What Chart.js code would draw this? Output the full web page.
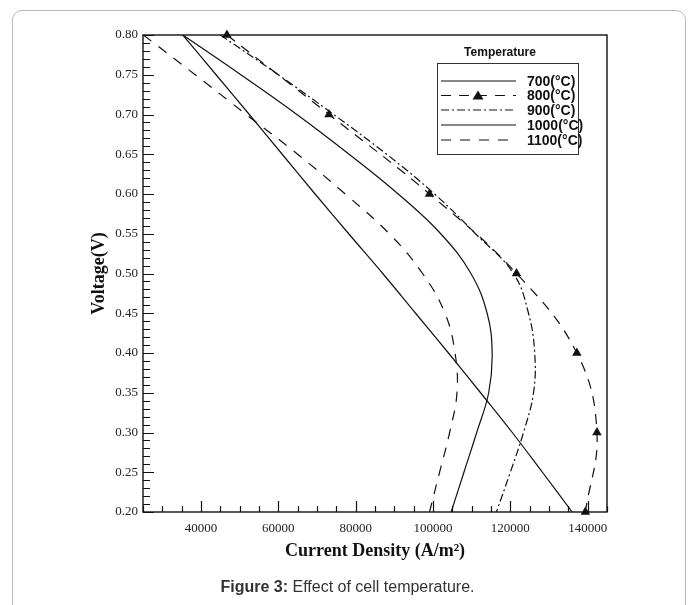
<!DOCTYPE html>
<html>
<head>
<meta charset="utf-8">
<script src="https://cdn.jsdelivr.net/npm/chart.js@4.4.0/dist/chart.umd.min.js"></script>
<style>
body { margin:0; background:#fff; width:695px; height:605px; overflow:hidden; position:relative; font-family:"Liberation Sans", Arial, sans-serif; }
#frame { position:absolute; left:12px; top:10px; width:672px; height:640px; border:1px solid #b8b8b8; border-radius:10px; }
#wrap { position:absolute; left:0; top:0; width:695px; height:605px; }
#caption { position:absolute; left:0; width:695px; top:578px; text-align:center; font-size:16px; color:#333; }
</style>
</head>
<body>
<div id="frame"></div>
<div id="wrap"><canvas id="chart" width="695" height="605"></canvas></div>
<div id="caption"><b>Figure 3:</b> Effect of cell temperature.</div>
<script>
// values
const temperatures = ['700(°C)', '800(°C)', '900(°C)', '1000(°C)', '1100(°C)'];
const voltage = [0.80, 0.75, 0.70, 0.65, 0.60, 0.55, 0.50, 0.45, 0.40, 0.35, 0.30, 0.25, 0.20];
const current700 = [35300, 43900, 52500, 61000, 69500, 78200, 87000, 95500, 104000, 112300, 120500, 128300, 136000];
const current900 = [45000, 60000, 74300, 88000, 100400, 111000, 120800, 124700, 126300, 126000, 123400, 120000, 116400];
const current1000 = [35300, 50300, 64800, 78300, 91000, 102000, 109800, 114000, 115300, 114400, 111300, 108000, 104700];
const current1100 = [25100, 38500, 51700, 65000, 77300, 88700, 97300, 103100, 105700, 106200, 104300, 101700, 99100];
const voltage800 = [0.80, 0.70, 0.60, 0.50, 0.40, 0.30, 0.20];
const current800 = [46700, 73100, 99100, 121600, 137200, 142400, 139400];
const xTicks = [40000, 60000, 80000, 100000, 120000, 140000];
const yTicks = [0.20, 0.25, 0.30, 0.35, 0.40, 0.45, 0.50, 0.55, 0.60, 0.65, 0.70, 0.75, 0.80];

function pairs(xs, ys) {
    return xs.map((x, i) => ({ x: x, y: ys[i] }));
}

const styles = [
    { dash: [], marker: false },
    { dash: [10, 8], marker: true },
    { dash: [8, 3, 2, 3], marker: false },
    { dash: [], marker: false },
    { dash: [10, 9], marker: false }
];

const series = [
    pairs(current700, voltage),
    pairs(current800, voltage800),
    pairs(current900, voltage),
    pairs(current1000, voltage),
    pairs(current1100, voltage)
];

const datasets = series.map((data, i) => ({
    label: temperatures[i],
    data: data,
    showLine: true,
    borderColor: '#111',
    backgroundColor: '#111',
    borderWidth: 1.2,
    borderDash: styles[i].dash,
    tension: 0.4,
    pointStyle: 'triangle',
    pointRadius: styles[i].marker ? 5.5 : 0,
    pointBorderWidth: 0,
    clip: styles[i].marker ? false : undefined
}));

const decorations = {
    id: 'decorations',
    afterDraw(chart) {
        const ctx = chart.ctx;
        const a = chart.chartArea;
        const xs = chart.scales.x;
        const ys = chart.scales.y;
        ctx.save();
        ctx.strokeStyle = '#111';
        ctx.lineWidth = 1.4;
        ctx.setLineDash([]);
        ctx.strokeRect(a.left, a.top, a.right - a.left, a.bottom - a.top);

        // inward ticks
        ctx.lineWidth = 1.2;
        ctx.beginPath();
        for (let i = 20; i <= 80; i++) {
            const py = Math.round(ys.getPixelForValue(i / 100)) + 0.5;
            const len = i % 5 === 0 ? 11 : 7;
            ctx.moveTo(a.left, py);
            ctx.lineTo(a.left + len, py);
        }
        for (let v = 25000; v <= 145000; v += 5000) {
            const px = Math.round(xs.getPixelForValue(v)) + 0.5;
            const len = v % 20000 === 0 ? 11 : 6;
            ctx.moveTo(px, a.bottom);
            ctx.lineTo(px, a.bottom - len);
        }
        ctx.stroke();

        // legend
        const bx = 437, by = 63, bw = 141, bh = 91;
        ctx.fillStyle = '#111';
        ctx.font = 'bold 12px "Liberation Sans", Arial, sans-serif';
        ctx.textAlign = 'center';
        ctx.textBaseline = 'middle';
        ctx.fillText('Temperature', 500, 53);
        ctx.fillStyle = '#fff';
        ctx.fillRect(bx, by, bw, bh);
        ctx.strokeStyle = '#333';
        ctx.lineWidth = 1;
        ctx.strokeRect(bx + 0.5, by + 0.5, bw, bh);
        const rows = [81, 95.5, 110, 125, 140];
        ctx.font = 'bold 14px "Liberation Sans", Arial, sans-serif';
        ctx.textAlign = 'left';
        chart.data.datasets.forEach((ds, i) => {
            const y = rows[i];
            ctx.strokeStyle = '#111';
            ctx.lineWidth = 1.2;
            ctx.setLineDash(ds.borderDash);
            ctx.beginPath();
            ctx.moveTo(441, y);
            ctx.lineTo(516, y);
            ctx.stroke();
            ctx.setLineDash([]);
            if (styles[i].marker) {
                ctx.fillStyle = '#111';
                ctx.beginPath();
                ctx.moveTo(478, y - 5);
                ctx.lineTo(483.5, y + 4);
                ctx.lineTo(472.5, y + 4);
                ctx.closePath();
                ctx.fill();
            }
            ctx.fillStyle = '#111';
            ctx.fillText(ds.label, 527, y + 1);
        });
        ctx.restore();
    }
};

new Chart(document.getElementById('chart'), {
    type: 'scatter',
    data: { datasets: datasets },
    options: {
        responsive: false,
        animation: false,
        devicePixelRatio: 1,
        layout: { padding: { left: 83, top: 35, right: 88, bottom: 43 } },
        plugins: { legend: { display: false }, tooltip: { enabled: false } },
        scales: {
            x: {
                type: 'linear',
                min: 25000,
                max: 145000,
                afterBuildTicks: s => { s.ticks = xTicks.map(v => ({ value: v })); },
                afterFit: s => { s.height = 50; },
                grid: { display: false, drawTicks: false },
                border: { display: false },
                ticks: {
                    padding: 9,
                    color: '#222',
                    font: { family: '"Liberation Serif", "Times New Roman", serif', size: 13 },
                    callback: v => String(v)
                },
                title: {
                    display: true,
                    text: 'Current Density (A/m²)',
                    color: '#111',
                    font: { family: '"Liberation Serif", "Times New Roman", serif', size: 18, weight: 'bold' },
                    padding: { top: 0, bottom: 0 }
                }
            },
            y: {
                type: 'linear',
                min: 0.20,
                max: 0.80,
                afterBuildTicks: s => { s.ticks = yTicks.map(v => ({ value: v })); },
                afterFit: s => { s.width = 60; },
                grid: { display: false, drawTicks: false },
                border: { display: false },
                ticks: {
                    padding: 5,
                    color: '#222',
                    font: { family: '"Liberation Serif", "Times New Roman", serif', size: 13 },
                    callback: v => v.toFixed(2)
                },
                title: {
                    display: true,
                    text: 'Voltage(V)',
                    color: '#111',
                    font: { family: '"Liberation Serif", "Times New Roman", serif', size: 18, weight: 'bold' },
                    padding: { top: 6, bottom: 0 }
                }
            }
        }
    },
    plugins: [decorations]
});
</script>
</body>
</html>
